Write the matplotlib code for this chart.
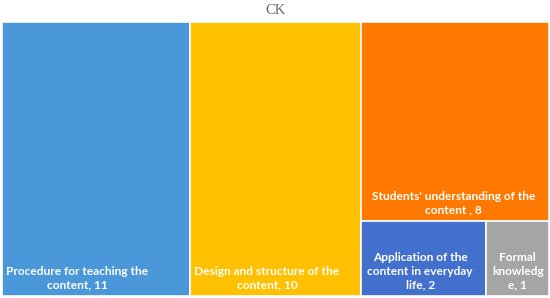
import matplotlib
matplotlib.use("Agg")
import matplotlib.pyplot as plt
from matplotlib.patches import Rectangle

title = "CK"
labels = ["Procedure for teaching the\ncontent, 11",
          "Design and structure of the\ncontent, 10",
          "Students' understanding of the\ncontent , 8",
          "Application of the\ncontent in everyday\nlife, 2",
          "Formal\nknowledg\ne, 1"]
values = [11, 10, 8, 2, 1]
colors = ["#4A98DA", "#FFC000", "#FF7800", "#4270CC", "#A5A5A5"]

fig = plt.figure(figsize=(5.5, 2.98), dpi=100)
ax = fig.add_axes([2/550, 2/298, 547/550, 274/298])
total = sum(values)
ax.set_xlim(0, total)
ax.set_ylim(0, 1)
ax.axis("off")

# layout: first two as full-height columns, rest in the last column
rects = []
x = 0
for v in values[:2]:
    rects.append((x, 0, v, 1))
    x += v
rest = values[2:]
colw = sum(rest)
h_top = rest[0] / colw
rects.append((x, 1 - h_top, colw, h_top))
bx = x
brest = sum(rest[1:])
for v in rest[1:]:
    w = colw * v / brest
    rects.append((bx, 0, w, 1 - h_top))
    bx += w

text_shift = [-1.1, -0.5, -0.1, -0.2, 0]
for (rx, ry, rw, rh), lab, c, sh in zip(rects, labels, colors, text_shift):
    ax.add_patch(Rectangle((rx, ry), rw, rh, facecolor=c, edgecolor="white", linewidth=1.2))
    ax.text(rx + rw / 2 + sh, ry + 0.02, lab, ha="center", va="bottom", ma="center",
            color="white", fontsize=8.6, family="Lato", fontweight="bold", linespacing=1.3)

fig.text(0.5, 1 - 11/298, title, ha="center", va="center", family="Liberation Serif",
         fontsize=10.5, color="#666666")
fig.savefig("out.png", dpi=100)
